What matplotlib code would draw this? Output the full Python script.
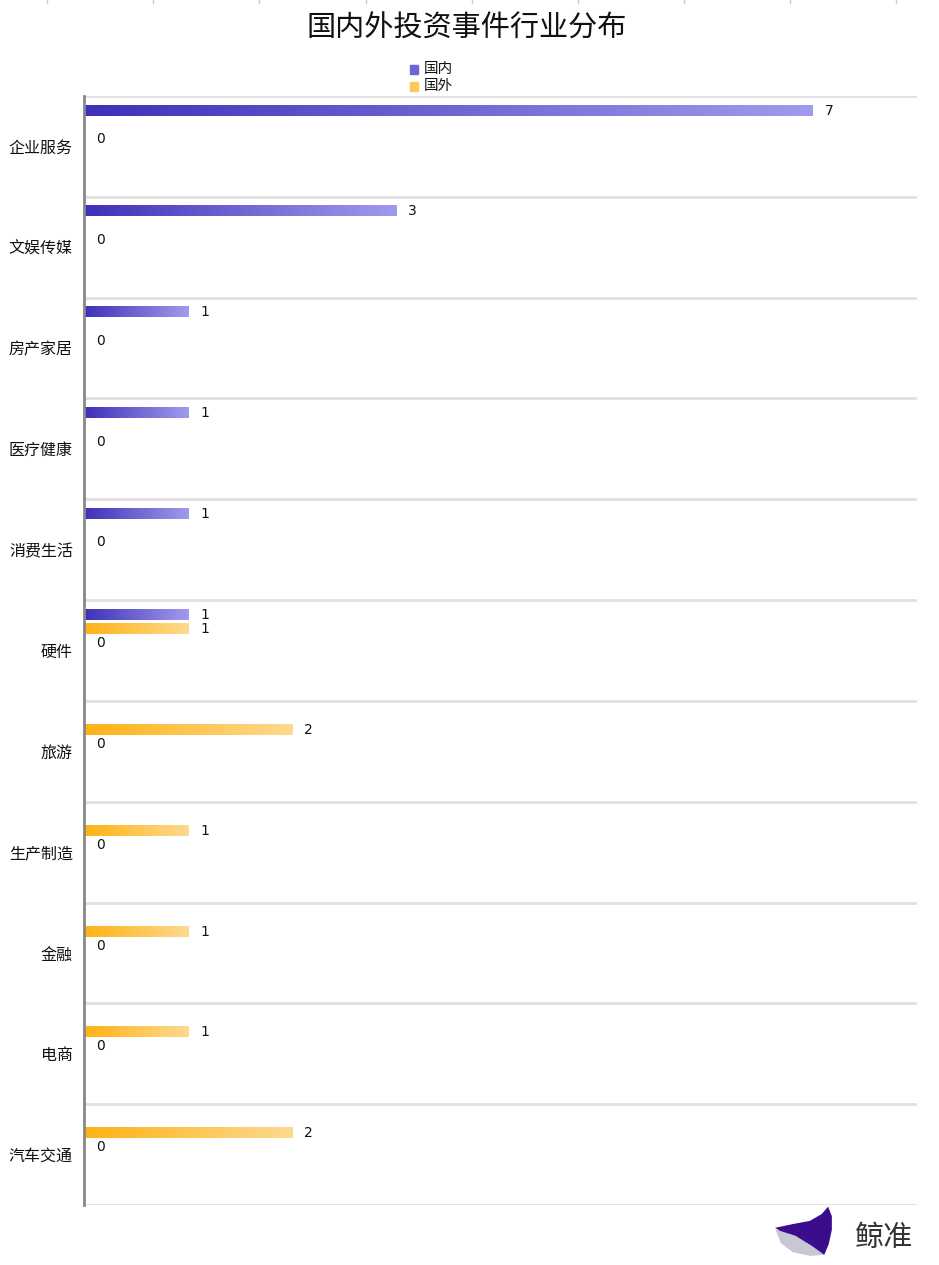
import numpy as np
import matplotlib
matplotlib.use('Agg')
import matplotlib.pyplot as plt
from matplotlib.colors import LinearSegmentedColormap
from matplotlib.patches import Rectangle, Polygon
from matplotlib.lines import Line2D

plt.rcParams['font.family'] = ['Noto Sans CJK SC', 'DejaVu Sans']

# 数据
categories = ['企业服务', '文娱传媒', '房产家居', '医疗健康', '消费生活', '硬件',
              '旅游', '生产制造', '金融', '电商', '汽车交通']
domestic = [7, 3, 1, 1, 1, 1, 0, 0, 0, 0, 0]
foreign = [0, 0, 0, 0, 0, 1, 2, 1, 1, 1, 2]
extra = [0, 0, 0, 0, 0, 0, 0, 0, 0, 0, 0]   # 第三个系列, 只显示标签 0
series_names = ['国内', '国外']

W, H = 939, 1265
fig = plt.figure(figsize=(W / 100, H / 100), dpi=100)
ax = fig.add_axes([84 / W, (H - 1205) / H, (917 - 84) / W, (1205 - 96) / H])

n = len(categories)
ax.set_xlim(0, 8)
ax.set_ylim(n, 0)

cmap_dom = LinearSegmentedColormap.from_list('dom', ['#3e30b8', '#a09bec'])
cmap_for = LinearSegmentedColormap.from_list('for', ['#ffb215', '#fdda8e'])

grad = np.linspace(0, 1, 256).reshape(1, -1)
bar_h = 0.10
offsets = [0.144, 0.288, 0.427]


def gradient_bar(y, val, cmap):
    if val <= 0:
        return
    ax.imshow(grad, cmap=cmap, aspect='auto', interpolation='bicubic',
              extent=(0, val, y + bar_h / 2, y - bar_h / 2), zorder=3)


for i in range(n):
    y0 = i + offsets[0]
    y1 = i + offsets[1]
    y2 = i + offsets[2]
    gradient_bar(y0, domestic[i], cmap_dom)
    gradient_bar(y1, foreign[i], cmap_for)
    if domestic[i] > 0:
        ax.text(domestic[i] + 0.115, y0, str(domestic[i]), va='center', ha='left',
                fontsize=10, color='#111111', family=['DejaVu Sans'])
    if foreign[i] > 0:
        ax.text(foreign[i] + 0.115, y1, str(foreign[i]), va='center', ha='left',
                fontsize=10, color='#111111', family=['DejaVu Sans'])
    ax.text(extra[i] + 0.115, y2, str(extra[i]), va='center', ha='left',
            fontsize=10, color='#111111', family=['DejaVu Sans'])

# 网格线
for k in range(n + 1):
    ax.axhline(k, color='#e0e0e0', lw=2, zorder=1)

ax.set_yticks(np.arange(n) + 0.5)
ax.set_yticklabels(categories, fontsize=11.5, color='#111111')
ax.tick_params(axis='y', length=0, pad=8)
ax.set_xticks([])
for s in ['top', 'right', 'bottom']:
    ax.spines[s].set_visible(False)
ax.spines['left'].set_color('#888888')
ax.spines['left'].set_linewidth(2)
ax.spines['left'].set_zorder(4)

# 标题
fig.text(467 / W, 1 - 29 / H, '国内外投资事件行业分布', ha='center', va='center',
         fontsize=21, color='#111111')

# 图例
leg_cols = ['#6d64d6', '#fec85c']
for j, name in enumerate(series_names):
    yc = 69 + j * 17
    fig.patches.append(Rectangle((410 / W, 1 - (yc + 4.5) / H), 8 / W, 9 / H,
                                 transform=fig.transFigure, color=leg_cols[j]))
    fig.text(424 / W, 1 - yc / H, name, ha='left', va='center', fontsize=10.5,
             color='#111111')

# 顶部的刻度痕迹
for xp in [47, 153, 259, 366, 472, 578, 684, 790, 896]:
    fig.add_artist(Line2D([xp / W, xp / W], [1, 1 - 3 / H], color='#cccccc', lw=1))

# 水印 logo
lax = fig.add_axes([772 / W, (H - 1258) / H, 63 / W, 53 / H])
lax.set_xlim(0, 1)
lax.set_ylim(0, 1)
lax.axis('off')
lax.add_patch(Polygon([(0.05, 0.55), (0.13, 0.51), (0.37, 0.42), (0.63, 0.23),
                       (0.83, 0.06), (0.6, 0.04), (0.33, 0.11), (0.14, 0.28)],
                      closed=True, color='#c9c7d3', lw=0))
lax.add_patch(Polygon([(0.05, 0.57), (0.33, 0.64), (0.60, 0.70), (0.79, 0.83),
                       (0.89, 0.97), (0.95, 0.79), (0.95, 0.53), (0.90, 0.26),
                       (0.83, 0.06), (0.63, 0.23), (0.37, 0.42), (0.13, 0.51)],
                      closed=True, color='#3b0d8c', lw=0))
fig.text(883 / W, 1 - 1238 / H, '鲸准', ha='center', va='center', fontsize=21,
         color='#333333', fontweight='medium')

fig.savefig('out.png', dpi=100)
